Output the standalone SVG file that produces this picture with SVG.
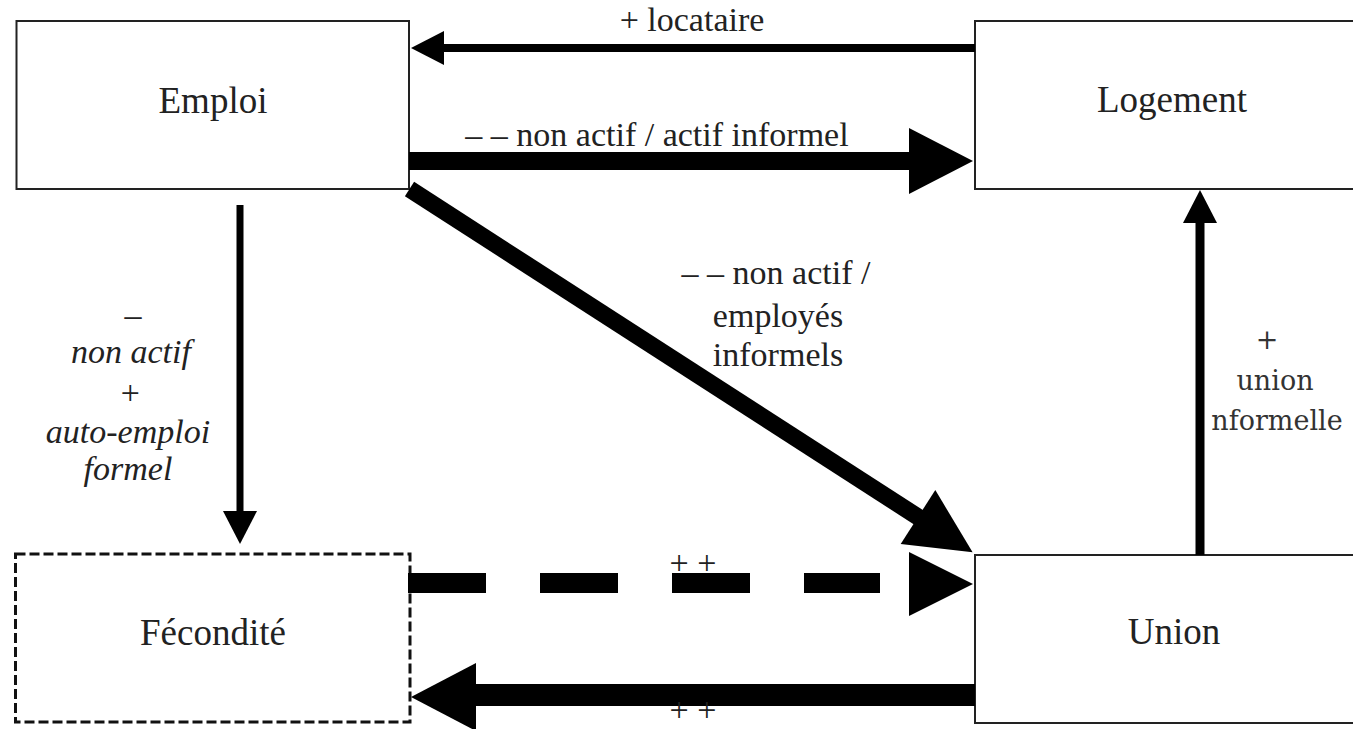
<svg xmlns="http://www.w3.org/2000/svg" width="1353" height="729" viewBox="0 0 1353 729">
<style>
.box{fill:#fff;stroke:#222;stroke-width:2}
.dbox{fill:#fff;stroke:#111;stroke-width:3;stroke-dasharray:10 4}
.node{font-family:"Liberation Serif",serif;font-size:37px;fill:#222;text-anchor:middle}
.lbl{font-family:"Liberation Serif",serif;font-size:34px;fill:#222;text-anchor:middle}
.it{font-family:"Liberation Serif",serif;font-style:italic;font-size:34px;fill:#222;text-anchor:middle}
.cm{font-family:"DejaVu Serif",serif;font-size:27px;fill:#333;text-anchor:middle}
.head{fill:#000}
.ln{stroke:#000;fill:none}
</style>
<rect width="1353" height="729" fill="#fff"/>
<g id="emploi"><rect class="box" x="16.5" y="21" width="392.5" height="168"/><text class="node" x="213" y="113">Emploi</text></g>
<g id="logement"><rect class="box" x="975" y="21" width="400" height="168"/><text class="node" x="1172" y="112">Logement</text></g>
<g id="fecondite"><rect class="dbox" x="15.5" y="554" width="394.5" height="168"/><text class="node" x="213" y="645">Fécondité</text></g>
<g id="union"><rect class="box" x="975" y="555" width="400" height="168"/><text class="node" x="1174" y="644">Union</text></g>
<g id="connectors">
<line class="ln" x1="444" y1="48" x2="975" y2="48" stroke-width="8"/>
<polygon class="head" points="411,48 444,31 444,65"/>
<text class="lbl" x="692" y="31" font-size="31">+ locataire</text>

<line class="ln" x1="409" y1="161" x2="910" y2="161" stroke-width="18"/>
<polygon class="head" points="909,128 973,161 909,194"/>
<text class="lbl" x="657" y="146">– – non actif / actif informel</text>

<line class="ln" x1="409.5" y1="189" x2="919" y2="517.6" stroke-width="17"/>
<polygon class="head" points="900.7,543.9 935.3,490.1 972.6,552.2"/>
<text class="lbl" x="776" y="284">– – non actif /</text>
<text class="lbl" x="778" y="327">employés</text>
<text class="lbl" x="778" y="366">informels</text>

<line class="ln" x1="240" y1="205" x2="240" y2="512" stroke-width="7"/>
<polygon class="head" points="223,511 257,511 240,544"/>
<text class="it" x="133" y="326">–</text>
<text class="it" x="131" y="363">non actif</text>
<text class="it" x="130" y="404">+</text>
<text class="it" x="128" y="443">auto-emploi</text>
<text class="it" x="128" y="480">formel</text>

<line class="ln" x1="1200" y1="555" x2="1200" y2="222" stroke-width="9"/>
<polygon class="head" points="1183,223 1217,223 1200,190"/>
<text class="cm" x="1267" y="349">+</text>
<text class="cm" x="1275" y="390">union</text>
<text class="cm" x="1277" y="430">nformelle</text>

<line class="ln" x1="408" y1="583" x2="880" y2="583" stroke-width="20" stroke-dasharray="78 54"/>
<polygon class="head" points="909,552 973,584 909,616"/>
<text class="lbl" x="693" y="574">+ +</text>

<line class="ln" x1="475" y1="695" x2="975" y2="695" stroke-width="22"/>
<polygon class="head" points="411,697 476,663 476,731"/>
<text class="lbl" x="693" y="721" font-size="30">+ +</text>
</g>
</svg>
